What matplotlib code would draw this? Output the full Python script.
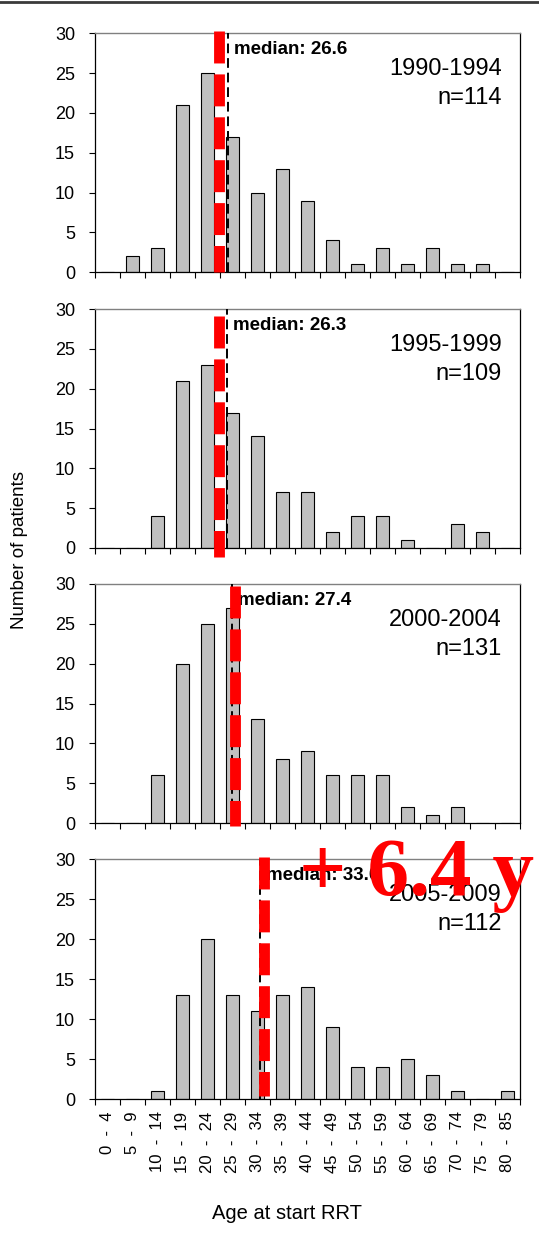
import matplotlib
matplotlib.use('Agg')
import matplotlib.pyplot as plt
from matplotlib.lines import Line2D

plt.rcParams['font.family'] = ['Liberation Sans', 'DejaVu Sans']

# ---------------- data ----------------
categories = ['0 - 4', '5 - 9', '10 - 14', '15 - 19', '20 - 24', '25 - 29',
              '30 - 34', '35 - 39', '40 - 44', '45 - 49', '50 - 54', '55 - 59',
              '60 - 64', '65 - 69', '70 - 74', '75 - 79', '80 - 85']
periods = ['1990-1994', '1995-1999', '2000-2004', '2005-2009']
n_patients = [114, 109, 131, 112]
counts_1990 = [0, 2, 3, 21, 25, 17, 10, 13, 9, 4, 1, 3, 1, 3, 1, 1, 0]
counts_1995 = [0, 0, 4, 21, 23, 17, 14, 7, 7, 2, 4, 4, 1, 0, 3, 2, 0]
counts_2000 = [0, 0, 6, 20, 25, 27, 13, 8, 9, 6, 6, 6, 2, 1, 2, 0, 0]
counts_2005 = [0, 0, 1, 13, 20, 13, 11, 13, 14, 9, 4, 4, 5, 3, 1, 0, 1]
medians = [26.6, 26.3, 27.4, 33.0]
red_marks = [24.8, 24.8, 27.9, 33.7]          # hand-drawn red dashed markers (age)
shift_label = '+ 6.4 y'
all_counts = [counts_1990, counts_1995, counts_2000, counts_2005]

# ---------------- layout ----------------
W, H = 539, 1253
fig = plt.figure(figsize=(W / 100, H / 100), dpi=100)
ax_left, ax_right = 95, 520
panel_px = [(33.3, 272.3), (309, 548), (584, 823), (859, 1099)]
red_span = [(30.3, 0.0), (29.12, -1.13), (29.75, -0.38), (30.25, 0.4)]


def age_to_x(a):
    return a / 5.0 - 0.5


xpos = list(range(len(categories)))
tick_text = [c.replace(' - ', '  -  ') for c in categories]

for i, (top, bot) in enumerate(panel_px):
    ax = fig.add_axes([ax_left / W, 1 - bot / H, (ax_right - ax_left) / W, (bot - top) / H])
    ax.bar(xpos, all_counts[i], width=0.53, color='#C0C0C0',
           edgecolor='black', linewidth=0.8, zorder=2)
    ax.set_xlim(-0.5, len(categories) - 0.5)
    ax.set_ylim(0, 30)
    ax.set_yticks(range(0, 31, 5))
    ax.tick_params(axis='y', labelsize=13, length=4.1, width=0.8, pad=10.3,
                   direction='out', colors='black')
    # boundary ticks
    ax.set_xticks([k - 0.5 for k in range(len(categories) + 1)])
    ax.set_xticklabels([])
    ax.tick_params(axis='x', which='major', length=4, width=0.8, direction='out')
    ax.set_xticks(xpos, minor=True)
    if i == len(panel_px) - 1:
        ax.set_xticklabels(tick_text, minor=True, rotation=90, fontsize=12)
        ax.tick_params(axis='x', which='minor', length=0, pad=9)
    else:
        ax.set_xticklabels([], minor=True)
        ax.tick_params(axis='x', which='minor', length=0)
    ax.spines['top'].set_color('#808080')
    ax.spines['top'].set_linewidth(1.0)
    for s in ('left', 'bottom', 'right'):
        ax.spines[s].set_color('black')
        ax.spines[s].set_linewidth(0.9)

    mx = age_to_x(medians[i])
    ax.plot([mx, mx], [0, 30], color='black', lw=1.4, linestyle=(0, (5, 2.5)), zorder=3)
    ax.annotate('median: %.1f' % medians[i], xy=(mx, 0.912),
                xycoords=('data', 'axes fraction'), xytext=(4.6, 0),
                textcoords='offset points', fontsize=13.5, fontweight='bold',
                va='baseline', ha='left', zorder=4)
    rx = age_to_x(red_marks[i])
    ax.add_line(Line2D([rx, rx], list(red_span[i]), color='#FF0000', lw=7.8,
                       linestyle=(0, (2.95, 1.01)), solid_capstyle='butt',
                       dash_capstyle='butt', clip_on=False, zorder=5))

    ax.text(0.957, 0.824, periods[i], transform=ax.transAxes, ha='right',
            va='baseline', fontsize=17)
    ax.text(0.957, 0.705, 'n=%d' % n_patients[i], transform=ax.transAxes,
            ha='right', va='baseline', fontsize=17)

fig.text(20 / W, 1 - 550 / H, 'Number of patients', rotation=90,
         ha='center', va='center', fontsize=13.5)
fig.text(287 / W, 1 - 1219 / H, 'Age at start RRT', ha='center',
         va='baseline', fontsize=14.5)
fig.text(299 / W, 1 - 895 / H, shift_label, ha='left', va='baseline',
         fontsize=60, fontweight='bold', color='#FF0000',
         family=['Liberation Serif', 'DejaVu Serif'], zorder=10)

# top rule
fig.add_artist(Line2D([0, 1], [1 - 2 / H, 1 - 2 / H], transform=fig.transFigure,
                      color='#3a3a3a', lw=2.0))

fig.savefig('out.png', dpi=100)
